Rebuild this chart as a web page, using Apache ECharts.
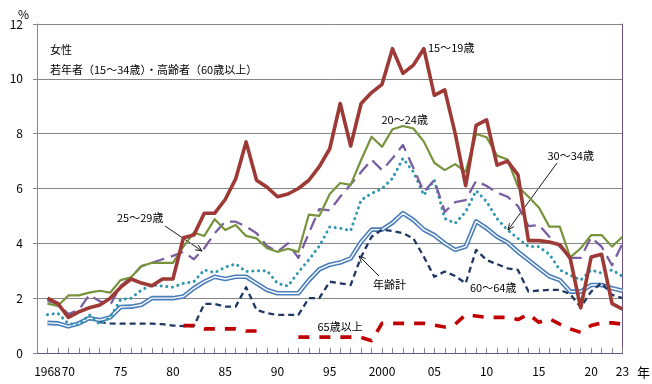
<!DOCTYPE html>
<html><head><meta charset="utf-8">
<script src="https://cdn.jsdelivr.net/npm/echarts/dist/echarts.min.js"></script>
<style>html,body{margin:0;padding:0;background:#fff}#c{width:652px;height:384px}</style>
</head><body><div id="c"></div>
<script>
const years = [1968,1969,1970,1971,1972,1973,1974,1975,1976,1977,1978,1979,1980,1981,1982,1983,1984,1985,1986,1987,1988,1989,1990,1991,1992,1993,1994,1995,1996,1997,1998,1999,2000,2001,2002,2003,2004,2005,2006,2007,2008,2009,2010,2011,2012,2013,2014,2015,2016,2017,2018,2019,2020,2021,2022,2023];

const age15_19 = [2.0,1.8,1.3,1.5,1.65,1.75,2.0,2.4,2.7,2.55,2.45,2.7,2.7,4.2,4.3,5.1,5.1,5.6,6.35,7.7,6.3,6.05,5.7,5.8,6.0,6.3,6.8,7.45,9.1,7.55,9.1,9.5,9.8,11.1,10.2,10.5,11.1,9.4,9.6,8.0,6.1,8.3,8.5,6.85,7.0,6.5,4.1,4.1,4.05,3.95,3.45,1.65,3.5,3.6,1.8,1.6];
const age20_24 = [1.8,1.72,2.1,2.1,2.2,2.27,2.2,2.66,2.76,3.17,3.29,3.29,3.29,3.88,4.39,4.27,4.88,4.49,4.67,4.27,4.18,3.82,3.69,3.8,3.69,5.05,5.0,5.8,6.2,6.13,7.04,7.89,7.52,8.16,8.28,8.19,7.71,6.94,6.67,6.89,6.61,7.99,7.87,7.2,7.06,6.07,5.7,5.31,4.61,4.61,3.49,3.82,4.3,4.3,3.88,4.24];
const age25_29 = [1.9,1.8,1.42,1.57,2.12,1.89,1.75,2.45,2.76,3.17,3.29,3.42,3.54,3.69,3.42,3.82,4.37,4.79,4.79,4.61,4.37,3.9,3.69,4.0,3.47,4.37,5.25,5.2,5.7,6.15,6.6,7.05,6.67,7.1,7.59,6.75,5.88,6.31,5.15,5.5,5.58,6.28,6.09,5.85,5.7,5.36,4.63,4.67,4.24,3.88,3.47,3.47,4.22,3.88,3.2,4.0];
const age30_34 = [1.4,1.45,1.07,1.02,1.4,1.05,1.3,1.95,2.0,2.3,2.48,2.44,2.4,2.54,2.6,3.03,2.93,3.13,3.25,2.97,3.0,3.0,2.54,2.44,2.95,3.4,3.9,4.6,4.55,4.46,5.58,5.82,6.0,6.37,7.1,6.61,5.76,6.31,4.91,4.73,5.15,5.92,5.52,4.9,4.49,4.18,3.88,3.88,3.6,3.03,2.84,2.66,3.03,2.91,3.03,2.8];
const allAges = [1.1,1.08,0.97,1.08,1.27,1.2,1.3,1.68,1.69,1.76,2.0,2.0,2.0,2.06,2.36,2.6,2.78,2.7,2.78,2.78,2.54,2.3,2.18,2.18,2.18,2.65,3.05,3.22,3.3,3.45,4.05,4.5,4.5,4.75,5.1,4.85,4.5,4.3,4.0,3.76,3.88,4.8,4.55,4.24,4.03,3.69,3.39,3.09,2.8,2.66,2.24,2.24,2.48,2.48,2.36,2.27];
const age60_64 = [null,null,null,null,null,1.13,1.08,1.07,1.07,1.07,1.07,1.05,1.0,0.98,0.98,1.79,1.79,1.69,1.69,2.4,1.57,1.45,1.39,1.39,1.39,2.0,2.0,2.6,2.54,2.48,3.51,4.24,4.5,4.45,4.37,4.18,3.51,2.78,2.97,2.81,2.54,3.76,3.39,3.24,3.09,3.03,2.24,2.28,2.3,2.3,2.15,1.67,2.24,2.56,2.12,2.0];
const age65plus = [null,null,null,null,null,null,null,null,null,null,null,null,null,1.0,1.0,0.88,0.88,0.88,0.88,0.8,0.8,null,null,null,0.58,0.58,0.58,0.58,0.58,0.58,0.57,0.45,1.08,1.08,1.08,1.08,1.08,1.02,0.95,1.05,1.4,1.35,1.3,1.3,1.3,1.22,1.42,1.12,1.25,1.05,0.88,0.75,1.0,1.1,1.1,1.05];

const xLabelYears = [1968,1970,1975,1980,1985,1990,1995,2000,2005,2010,2015,2020,2023];
const xLabelTexts = ['1968','70','75','80','85','90','95','2000','05','10','15','20','23'];
const yTicks = [0,2,4,6,8,10,12];

const pairs = arr => years.map((y, i) => [y, arr[i]]);
const FONT = '"Noto Sans CJK JP", "Noto Sans", sans-serif';

const chart = echarts.init(document.getElementById('c'), null, {renderer: 'canvas'});

function arrow(x1, y1, x2, y2) {
  const a = Math.atan2(y2 - y1, x2 - x1), L = 7, w = 0.42;
  return [
    {type: 'line', silent: true, shape: {x1, y1, x2, y2}, style: {stroke: '#000', lineWidth: 0.9}},
    {type: 'polyline', silent: true, shape: {points: [
      [x2 - L * Math.cos(a - w), y2 - L * Math.sin(a - w)], [x2, y2],
      [x2 - L * Math.cos(a + w), y2 - L * Math.sin(a + w)]]},
     style: {stroke: '#000', lineWidth: 0.9, fill: null}}
  ];
}
function txt(text, x, y, size) {
  return {type: 'text', silent: true, style: {text, x, y, font: (size || 11) + 'px ' + FONT,
    fill: '#000', textAlign: 'left', textVerticalAlign: 'middle'}};
}

const labelMap = {};
xLabelYears.forEach((y, i) => labelMap[y] = xLabelTexts[i]);

const baseLine = (name, data, color, width, type, z) => ({
  name, type: 'line', data: pairs(data), symbol: 'none', z: z || 2,
  lineStyle: {color, width, type: type || 'solid', cap: 'butt', join: 'round'},
  connectNulls: false, animation: false
});

chart.setOption({
  animation: false,
  grid: {left: 37, right: 29.5, top: 24, bottom: 31},
  xAxis: [{
    type: 'value', min: 1967, max: 2023, interval: 1,
    axisLine: {lineStyle: {color: '#868686', width: 1}},
    axisTick: {show: true, inside: true, length: 5, lineStyle: {color: '#868686'}},
    axisLabel: {color: '#000', fontSize: 12, fontFamily: FONT, margin: 12,
      formatter: v => labelMap[v] || ''},
    splitLine: {show: false}
  }, {
    type: 'value', position: 'top', min: 1967, max: 2023,
    axisLine: {show: true, lineStyle: {color: '#6A5389', width: 1}},
    axisTick: {show: false}, axisLabel: {show: false}, splitLine: {show: false}
  }],
  yAxis: [{
    type: 'value', min: yTicks[0], max: yTicks[yTicks.length - 1], interval: 2,
    axisLine: {show: true, lineStyle: {color: '#868686'}},
    axisTick: {show: true, length: 4, lineStyle: {color: '#868686'}},
    axisLabel: {color: '#000', fontSize: 12, fontFamily: FONT, margin: 14},
    splitLine: {show: true, lineStyle: {color: '#868686', width: 1}}
  }, {
    type: 'value', position: 'right', min: 0, max: 12,
    axisLine: {show: true, lineStyle: {color: '#6A5389', width: 1}},
    axisTick: {show: false}, axisLabel: {show: false}, splitLine: {show: false}
  }],
  series: [
    baseLine('年齢計', allAges, '#4A7EBB', 4.6, 'solid', 2),
    Object.assign(baseLine('年齢計_inner', allAges, '#ffffff', 1.4, 'solid', 3), {}),
    baseLine('60～64歳', age60_64, '#1F3864', 2.3, [6, 4], 4),
    baseLine('30～34歳', age30_34, '#2F97AF', 3, [0.1, 5.6], 5),
    baseLine('25～29歳', age25_29, '#7A5FA0', 2.3, [13, 7], 6),
    baseLine('20～24歳', age20_24, '#77933C', 2.2, 'solid', 7),
    baseLine('15～19歳', age15_19, '#9E3A36', 3.6, 'solid', 8),
    baseLine('65歳以上', age65plus, '#C00000', 3.6, [11, 10], 9)
  ].map(s => { if (s.lineStyle.type !== 'solid' && Array.isArray(s.lineStyle.type) && s.lineStyle.type[0] < 1) s.lineStyle.cap = 'round'; return s; }),
  graphic: [
    txt('%', 18, 14, 12),
    txt('年', 637, 372, 13),
    txt('女性', 50, 50),
    txt('若年者（15～34歳）・高齢者（60歳以上）', 50, 70),
    txt('15～19歳', 428, 48),
    txt('20～24歳', 381.5, 120),
    txt('30～34歳', 547.5, 156),
    txt('25～29歳', 117, 217.5),
    txt('年齢計', 373, 285),
    txt('60～64歳', 470, 287.5),
    txt('65歳以上', 317.5, 326.5),
    ...arrow(165, 226, 202, 251),
    ...arrow(557, 163, 508, 230),
    ...arrow(379, 276, 359, 256)
  ]
});
</script>
</body></html>
